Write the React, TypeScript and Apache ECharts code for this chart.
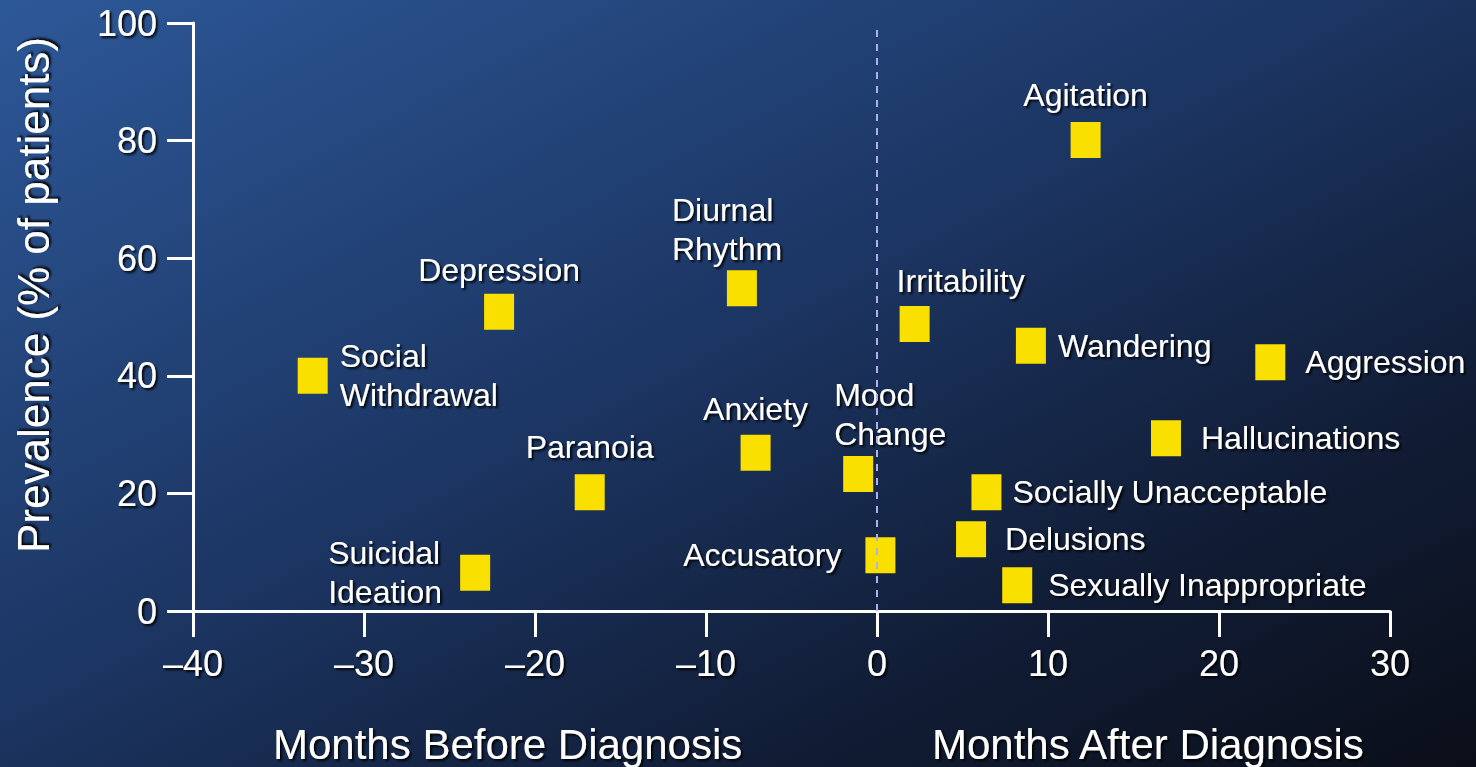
import React, { useEffect, useRef } from "react";
import * as echarts from "echarts";

const symptoms = [
  "Social\nWithdrawal",
  "Depression",
  "Diurnal\nRhythm",
  "Paranoia",
  "Anxiety",
  "Suicidal\nIdeation",
  "Mood\nChange",
  "Accusatory",
  "Irritability",
  "Agitation",
  "Wandering",
  "Aggression",
  "Hallucinations",
  "Socially Unacceptable",
  "Delusions",
  "Sexually Inappropriate",
];
const monthsFromDiagnosis = [-33, -22.1, -7.9, -16.8, -7.1, -23.5, -1.1, 0.2, 2.2, 12.2, 9.0, 23.0, 16.9, 6.4, 5.5, 8.2];
const prevalence = [40, 50.9, 54.9, 20.2, 26.9, 6.5, 23.3, 9.5, 48.8, 80.1, 45.1, 42.3, 29.4, 20.2, 12.2, 4.4];

const xTicks = { min: -40, max: 30, interval: 10 };
const yTicks = { min: 0, max: 100, interval: 20 };

const yTitle = "Prevalence (% of patients)";
const xTitleBefore = "Months Before Diagnosis";
const xTitleAfter = "Months After Diagnosis";

// label placement (style only)
const labelStyles: any[] = [
  { position: "right", distance: 12, align: "left" },
  { position: "top", distance: 4, align: "center" },
  { position: "top", distance: 2, align: "left", offset: [-70, 0] },
  { position: "top", distance: 8, align: "center" },
  { position: "top", distance: 6, align: "center" },
  { position: "left", distance: 20, align: "left", offset: [-112, 0] },
  { position: "top", distance: 2, align: "left", offset: [-24, 0] },
  { position: "left", distance: 24, align: "right" },
  { position: "top", distance: 6, align: "center", offset: [46, 0] },
  { position: "top", distance: 8, align: "center" },
  { position: "right", distance: 12, align: "left" },
  { position: "right", distance: 20, align: "left" },
  { position: "right", distance: 20, align: "left" },
  { position: "right", distance: 11, align: "left" },
  { position: "right", distance: 19, align: "left" },
  { position: "right", distance: 16, align: "left" },
];

const FONT = "'Liberation Sans', Arial, sans-serif";
const shadow = {
  textShadowColor: "rgba(0,0,0,0.9)",
  textShadowBlur: 2,
  textShadowOffsetX: 2,
  textShadowOffsetY: 2,
};

export default function App() {
  const ref = useRef<HTMLDivElement>(null);
  useEffect(() => {
    document.body.style.margin = "0";
    const chart = echarts.init(ref.current!, null, { renderer: "svg" });
    const data = symptoms.map((name, i) => ({
      name,
      value: [monthsFromDiagnosis[i], prevalence[i]],
      label: {
        show: true,
        formatter: name,
        color: "#ffffff",
        fontSize: 32,
        lineHeight: 39,
        fontFamily: FONT,
        ...shadow,
        ...labelStyles[i],
      },
    }));
    chart.setOption({
      animation: false,
      backgroundColor: {
        type: "linear",
        x: 0,
        y: 0,
        x2: 1,
        y2: 1,
        colorStops: [
          { offset: 0, color: "#2d5898" },
          { offset: 0.45, color: "#1c3664" },
          { offset: 0.75, color: "#111d36" },
          { offset: 1, color: "#0a0e18" },
        ],
      },
      grid: { left: 193, right: 86, top: 23, bottom: 156, containLabel: false, outerBoundsMode: "none" },
      xAxis: {
        type: "value",
        min: xTicks.min,
        max: xTicks.max,
        interval: xTicks.interval,
        splitLine: { show: false },
        axisLine: { show: true, onZero: false, lineStyle: { color: "#ffffff", width: 3 } },
        axisTick: { show: true, inside: false, length: 26, lineStyle: { color: "#ffffff", width: 3 } },
        axisLabel: {
          color: "#ffffff",
          fontSize: 36,
          fontFamily: FONT,
          margin: 34,
          formatter: (v: number) => String(v).replace("-", "\u2013"),
          ...shadow,
        },
      },
      yAxis: {
        type: "value",
        min: yTicks.min,
        max: yTicks.max,
        interval: yTicks.interval,
        splitLine: { show: false },
        axisLine: { show: true, onZero: false, lineStyle: { color: "#ffffff", width: 3 } },
        axisTick: { show: true, inside: false, length: 26, lineStyle: { color: "#ffffff", width: 3 } },
        axisLabel: {
          color: "#ffffff",
          fontSize: 36,
          fontFamily: FONT,
          margin: 36,
          ...shadow,
        },
      },
      graphic: [
        {
          type: "text",
          x: 33,
          y: 295,
          rotation: Math.PI / 2,
          style: {
            text: yTitle,
            fill: "#ffffff",
            font: `44px ${FONT}`,
            align: "center",
            verticalAlign: "middle",
            ...shadow,
          },
        },
        {
          type: "text",
          left: 273,
          top: 723,
          style: { text: xTitleBefore, fill: "#ffffff", font: `42px ${FONT}`, ...shadow },
        },
        {
          type: "text",
          left: 932,
          top: 723,
          style: { text: xTitleAfter, fill: "#ffffff", font: `42px ${FONT}`, ...shadow },
        },
      ],
      series: [
        {
          type: "scatter",
          symbol: "rect",
          symbolSize: [30, 36],
          itemStyle: { color: "#f9e000", opacity: 1 },
          data,
          markLine: {
            silent: true,
            symbol: "none",
            label: { show: false },
            lineStyle: { color: "#aeaef0", type: [7, 7], width: 2, opacity: 1 },
            data: [{ xAxis: 0 }],
          },
          z: 3,
        },
      ],
    });
    return () => chart.dispose();
  }, []);
  return <div ref={ref} style={{ position: "absolute", left: 0, top: 0, width: 1476, height: 767 }} />;
}
